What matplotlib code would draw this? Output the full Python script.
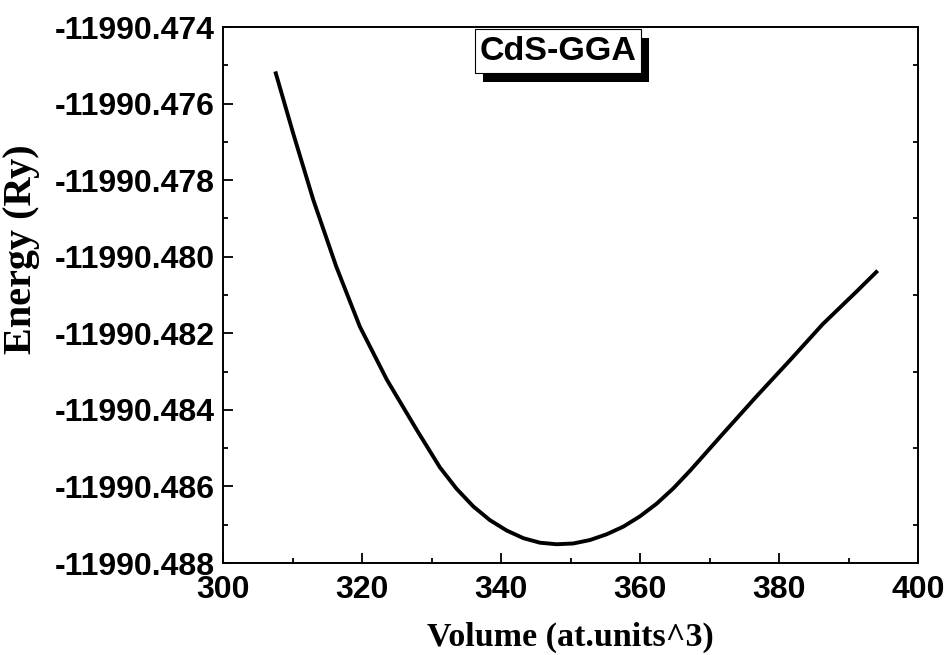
import numpy as np
import matplotlib
matplotlib.use("Agg")
import matplotlib.pyplot as plt
from matplotlib.patches import Rectangle
from matplotlib.ticker import FormatStrFormatter, MultipleLocator

# E-V curve (volume in at.units^3, energy in Ry)
volume = [307.6, 310.1, 313.0, 316.3, 319.7, 323.6, 327.9, 331.2, 333.6, 336.0,
          338.4, 340.8, 343.2, 345.6, 348.0, 350.4, 352.8, 355.2, 357.6, 360.0,
          362.4, 364.8, 367.2, 371.9, 376.7, 381.6, 386.3, 391.1, 394.0]
energy = [-11990.47521, -11990.47678, -11990.47852, -11990.48026, -11990.48183,
          -11990.48322, -11990.48453, -11990.48550, -11990.48606, -11990.48652,
          -11990.48688, -11990.48715, -11990.48735, -11990.48747, -11990.48751,
          -11990.48749, -11990.48740, -11990.48725, -11990.48705, -11990.48678,
          -11990.48645, -11990.48605, -11990.48559, -11990.48463, -11990.48366,
          -11990.48270, -11990.48176, -11990.48092, -11990.48040]

x_ticks = [300, 320, 340, 360, 380, 400]
y_lim = (-11990.488, -11990.474)
label = "CdS-GGA"

SANS = ["Liberation Sans", "DejaVu Sans"]
SERIF = ["Liberation Serif", "DejaVu Serif"]

fig = plt.figure(figsize=(9.46, 6.55), dpi=100)
ax = fig.add_axes([223 / 946, 1 - 563 / 655, (918 - 223) / 946, (563 - 27) / 655])

ax.plot(volume, energy, color="black", lw=2.8, solid_joinstyle="round")

ax.set_xlim(300, 400)
ax.set_ylim(*y_lim)
ax.set_xticks(x_ticks)
ax.xaxis.set_minor_locator(MultipleLocator(10))
ax.yaxis.set_major_locator(MultipleLocator(0.002))
ax.yaxis.set_minor_locator(MultipleLocator(0.001))
ax.yaxis.set_major_formatter(FormatStrFormatter("%.3f"))

for s in ax.spines.values():
    s.set_linewidth(1.4)

ax.tick_params(which="major", direction="in", length=7, width=1.3,
               left=True, bottom=True, right=False, top=False, pad=6)
ax.tick_params(which="minor", direction="in", length=3.6, width=1.3,
               left=True, bottom=True, right=True, top=False)
ax.tick_params(axis="x", which="major", pad=8.5)

for t in ax.get_xticklabels() + ax.get_yticklabels():
    t.set_family(SANS)
    t.set_fontweight("bold")
    t.set_fontsize(23)

ax.set_xlabel("Volume (at.units^3)", family=SERIF, fontweight="bold", fontsize=24.5)
ax.xaxis.set_label_coords(0.5, (563 - 637) / 536)
ax.xaxis.label.set_va("center")
ax.set_ylabel("Energy (Ry)", family=SERIF, fontweight="bold", fontsize=29)
ax.yaxis.set_label_coords((22 - 223) / 695, (563 - 249) / 536)
ax.yaxis.label.set_va("center")

# label box with drop shadow
bx0, by0, bw, bh = 475, 29, 166, 44
fig.patches.append(Rectangle(((bx0 + 8) / 946, 1 - (by0 + bh + 9) / 655), bw / 946, bh / 655,
                             transform=fig.transFigure, facecolor="black", edgecolor="none", zorder=5))
fig.patches.append(Rectangle((bx0 / 946, 1 - (by0 + bh) / 655), bw / 946, bh / 655,
                             transform=fig.transFigure, facecolor="white", edgecolor="black",
                             lw=0.8, zorder=6))
fig.text((bx0 + bw / 2) / 946, 1 - (by0 + bh / 2) / 655, label, family=SANS, fontweight="bold",
         fontsize=24.5, ha="center", va="center", zorder=7)

fig.savefig("out.png", dpi=100)
